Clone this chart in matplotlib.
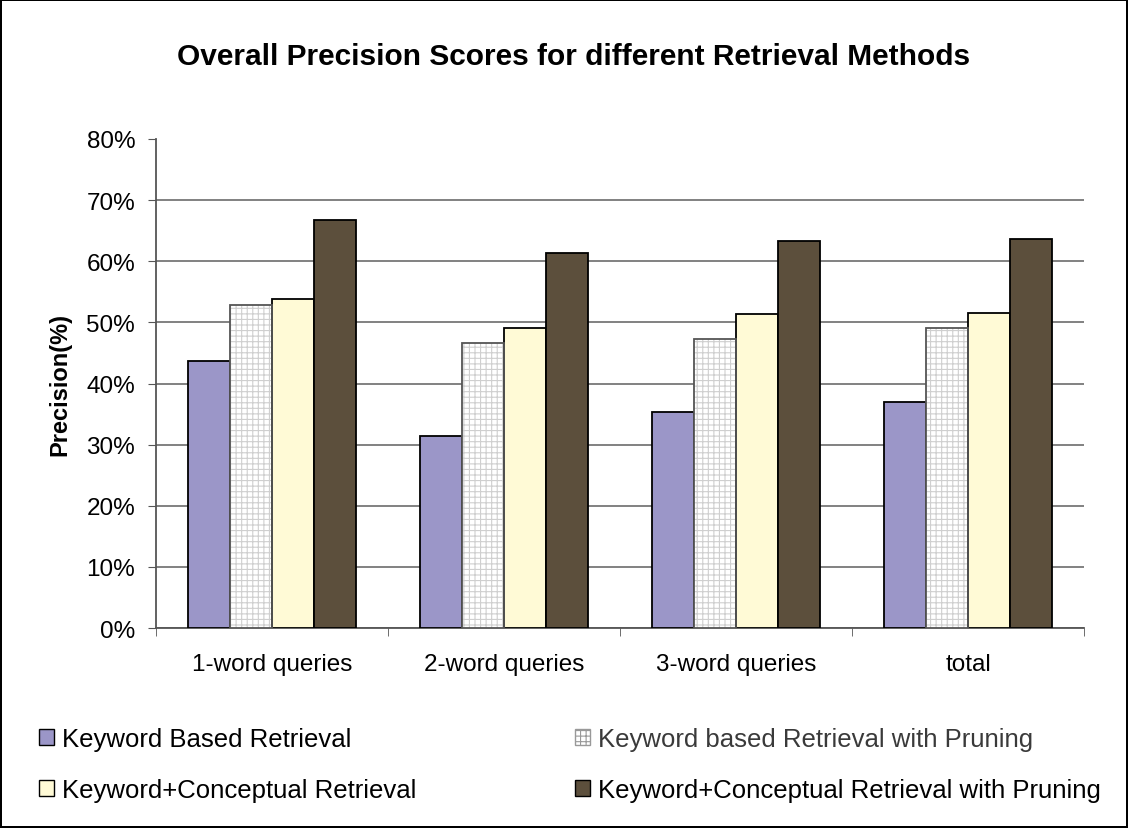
import numpy as np
import matplotlib.pyplot as plt

plt.rcParams['font.family'] = ['Liberation Sans', 'DejaVu Sans']
plt.rcParams['hatch.linewidth'] = 0.8

categories = ['1-word queries', '2-word queries', '3-word queries', 'total']
series = ['Keyword Based Retrieval', 'Keyword based Retrieval with Pruning',
          'Keyword+Conceptual Retrieval', 'Keyword+Conceptual Retrieval with Pruning']
kw_based = [43.7, 31.4, 35.3, 36.9]
kw_pruning = [52.9, 46.7, 47.3, 49.0]
kw_concept = [53.9, 49.0, 51.3, 51.6]
kw_concept_pruning = [66.7, 61.4, 63.3, 63.7]
yticks = [0, 10, 20, 30, 40, 50, 60, 70, 80]

fig = plt.figure(figsize=(11.28, 8.29), dpi=100)
fig.patch.set_edgecolor('black')
fig.patch.set_linewidth(1.5)
ax = fig.add_axes([156/1128, 1 - 629/829, 928/1128, 489/829])

x = np.arange(len(categories))
w = 0.181
offs = [-1.5*w, -0.5*w, 0.5*w, 1.5*w]

b1 = ax.bar(x + offs[0], kw_based, w, color='#9b96c8', edgecolor='black', linewidth=1.3, zorder=3)
b2 = ax.bar(x + offs[1], kw_pruning, w, color='white', edgecolor='#cfcfcf', hatch='+++', linewidth=0, zorder=3)
ax.bar(x + offs[1], kw_pruning, w, fill=False, edgecolor='#555555', linewidth=1.3, zorder=4)
b3 = ax.bar(x + offs[2], kw_concept, w, color='#fffad6', edgecolor='black', linewidth=1.3, zorder=3)
b4 = ax.bar(x + offs[3], kw_concept_pruning, w, color='#5c4f3c', edgecolor='black', linewidth=1.3, zorder=3)

ax.set_xlim(-0.5, len(categories) - 0.5)
ax.set_ylim(0, 80)
ax.set_yticks(yticks)
ax.set_yticklabels([f'{t}%' for t in yticks], fontsize=17.5)
ax.set_xticks(x)
ax.set_xticklabels(categories, fontsize=17.5)
ax.set_xticks(np.arange(len(categories) + 1) - 0.5, minor=True)
ax.tick_params(axis='x', which='major', length=0, pad=18)
ax.tick_params(axis='x', which='minor', length=6, color='#555555')
ax.tick_params(axis='y', length=6, color='#555555', pad=9)
ax.grid(axis='y', color='#777777', linewidth=1.3, zorder=0)
ax.yaxis.get_gridlines()[-1].set_visible(False)
for s in ['top', 'right']:
    ax.spines[s].set_visible(False)
for s in ['left', 'bottom']:
    ax.spines[s].set_color('#555555')
    ax.spines[s].set_linewidth(1.3)

ax.set_ylabel('Precision(%)', fontsize=17, fontweight='bold', labelpad=11)
fig.suptitle('Overall Precision Scores for different Retrieval Methods',
             fontsize=21.5, fontweight='bold', x=573.5/1128, y=1 - 57/829, va='center')

handles = [b1, b3, b2, b4]
labels = [series[0], series[2], series[1], series[3]]
leg = fig.legend(handles, labels, ncol=2, loc='upper left', bbox_to_anchor=(39/1128, 1 - 728/829),
                 frameon=False, fontsize=18.5, handlelength=0.6, handleheight=0.6,
                 handletextpad=0.3, columnspacing=6.17, labelspacing=1.05,
                 borderpad=0, borderaxespad=0)
leg.get_texts()[2].set_color('#3a3a3a')
for h in leg.legend_handles:
    h.set_linewidth(1.0)
leg.legend_handles[2].set_edgecolor('#999999')

fig.savefig('out.png', dpi=100)
